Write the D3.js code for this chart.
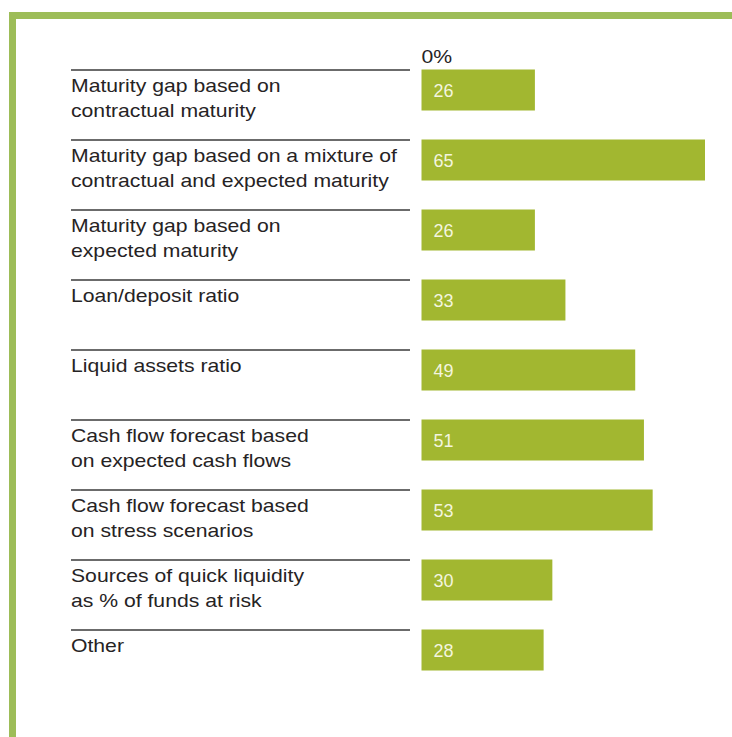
<!DOCTYPE html>
<html>
<head>
<meta charset="utf-8">
<script src="https://cdn.jsdelivr.net/npm/d3@7"></script>
<style>
  html, body { margin: 0; padding: 0; background: #ffffff; }
  svg { display: block; }
</style>
</head>
<body>
<svg id="chart" width="732" height="737"></svg>
<script>
// Liquidity risk measures in use (% of respondents)
const categories = [
  ["Maturity gap based on", "contractual maturity"],
  ["Maturity gap based on a mixture of", "contractual and expected maturity"],
  ["Maturity gap based on", "expected maturity"],
  ["Loan/deposit ratio"],
  ["Liquid assets ratio"],
  ["Cash flow forecast based", "on expected cash flows"],
  ["Cash flow forecast based", "on stress scenarios"],
  ["Sources of quick liquidity", "as % of funds at risk"],
  ["Other"]
];
const values = [26, 65, 26, 33, 49, 51, 53, 30, 28];
const axisLabel = "0%";

const frameColor = "#9dbd58";
const barColor = "#a2b730";
const ruleColor = "#6b6b6b";
const textColor = "#262324";
const valueColor = "#f3f5df";
const font = "'Liberation Sans', Arial, sans-serif";
const stretch = 1.115; // typeface is set slightly wide

const svg = d3.select("#chart");
const keys = categories.map((c, i) => i);

const x = d3.scaleLinear().domain([0, 65]).range([421.5, 705]);
const y = d3.scaleBand().domain(keys).range([69.5, 670.5]).paddingInner(29 / 70).paddingOuter(0);

// frame (top and left edges)
svg.append("rect").attr("x", 9).attr("y", 12).attr("width", 723).attr("height", 7).attr("fill", frameColor);
svg.append("rect").attr("x", 9).attr("y", 12).attr("width", 7).attr("height", 725).attr("fill", frameColor);

// axis origin label
svg.append("text")
  .attr("transform", `translate(${x(0)},63) scale(${stretch},1)`)
  .attr("font-family", font).attr("font-size", 19)
  .attr("fill", textColor)
  .text(axisLabel);

const rows = svg.selectAll("g.row").data(keys).join("g").attr("class", "row");

// rule above each label
rows.append("line")
  .attr("x1", 71).attr("x2", 410)
  .attr("y1", d => y(d) + 0.5).attr("y2", d => y(d) + 0.5)
  .attr("stroke", ruleColor).attr("stroke-width", 2);

// category labels
rows.append("text")
  .attr("transform", d => `translate(71,${y(d)}) scale(${stretch},1)`)
  .attr("font-family", font).attr("font-size", 19).attr("fill", textColor)
  .each(function(d) {
    const t = d3.select(this);
    categories[d].forEach((line, j) => {
      t.append("tspan").attr("x", 0).attr("y", 23 + j * 24.5).text(line);
    });
  });

// bars
rows.append("rect")
  .attr("x", x(0)).attr("y", d => y(d))
  .attr("width", d => x(values[d]) - x(0))
  .attr("height", y.bandwidth())
  .attr("fill", barColor);

// value labels inside bars
rows.append("text")
  .attr("x", x(0) + 12).attr("y", d => y(d) + y.bandwidth() / 2 + 6.5)
  .attr("font-family", font).attr("font-size", 18).attr("fill", valueColor)
  .text(d => values[d]);
</script>
</body>
</html>
